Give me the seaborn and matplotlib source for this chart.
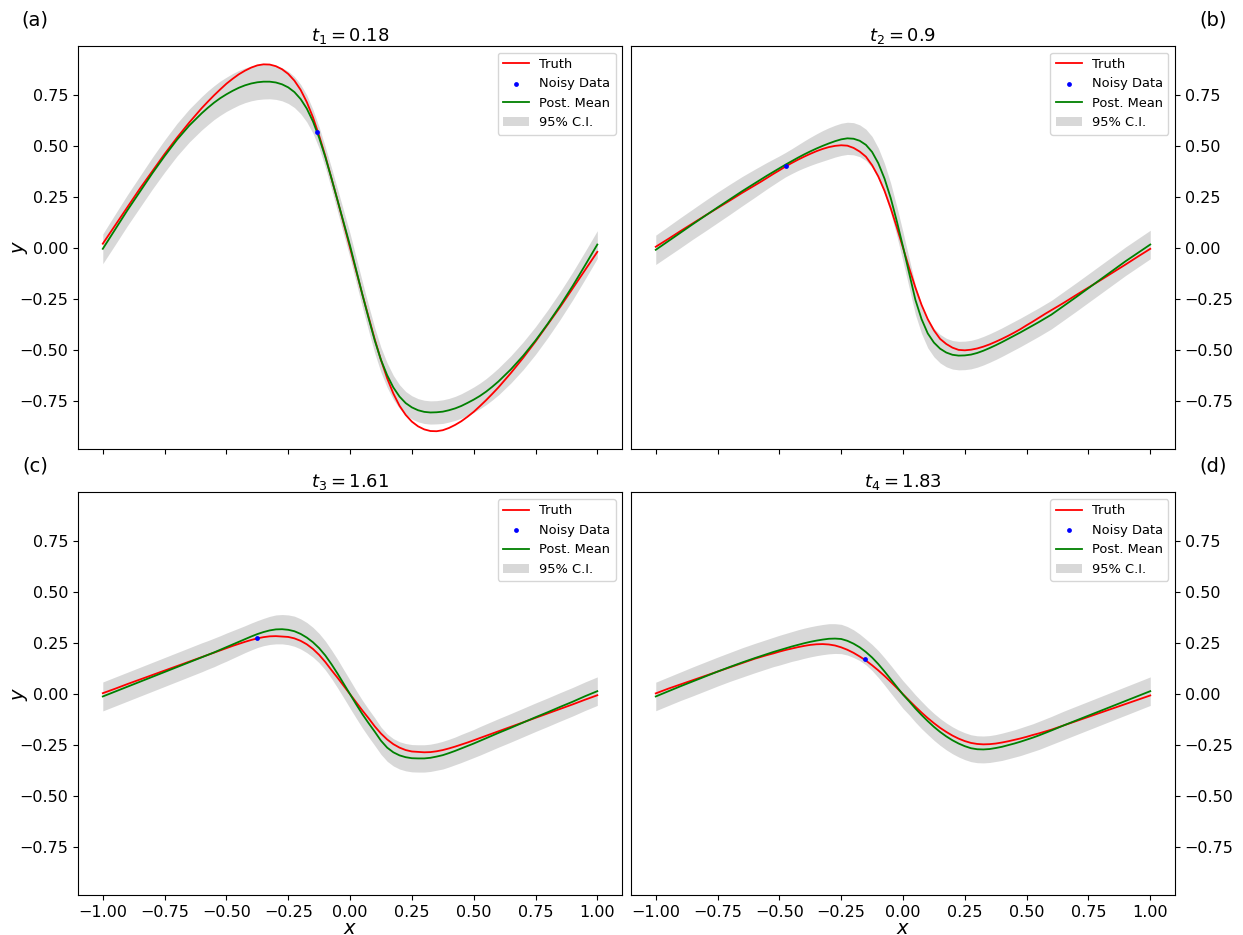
import numpy as np
import pandas as pd
import matplotlib
matplotlib.use("Agg")
import matplotlib.pyplot as plt
import seaborn as sns

# sample locations (finer near the middle where the curves bend)
x_grid = [-1.0, -0.95, -0.9, -0.85, -0.8, -0.75, -0.7, -0.65, -0.6,
          -0.575, -0.55, -0.525, -0.5, -0.475, -0.45, -0.425, -0.4, -0.375, -0.35,
          -0.325, -0.3, -0.275, -0.25, -0.225, -0.2, -0.175, -0.15, -0.125, -0.1,
          -0.075, -0.05, -0.025, 0.0,
          0.025, 0.05, 0.075, 0.1, 0.125, 0.15, 0.175, 0.2, 0.225, 0.25,
          0.275, 0.3, 0.325, 0.35, 0.375, 0.4, 0.425, 0.45, 0.475, 0.5,
          0.525, 0.55, 0.575,
          0.6, 0.65, 0.7, 0.75, 0.8, 0.85, 0.9, 0.95, 1.0]

times = ["$t_1 = 0.18$", "$t_2 = 0.9$", "$t_3 = 1.61$", "$t_4 = 1.83$"]
panel_tags = ["(a)", "(b)", "(c)", "(d)"]

# noisy observations (one per panel)
data_x = [-0.133, -0.475, -0.375, -0.152]
data_y = [0.57, 0.40, 0.276, 0.173]

# panel (a)
truth_a = [0.02, 0.11, 0.20, 0.29, 0.375, 0.46, 0.54, 0.615, 0.685,
           0.717, 0.748, 0.777, 0.805, 0.829, 0.851, 0.869, 0.884, 0.895, 0.90,
           0.899, 0.891, 0.876, 0.853, 0.82, 0.775, 0.715, 0.64, 0.55, 0.45,
           0.34, 0.23, 0.115, 0.0,
           -0.115, -0.23, -0.34, -0.45, -0.55, -0.64, -0.715, -0.775, -0.82, -0.853,
           -0.876, -0.891, -0.899, -0.90, -0.895, -0.884, -0.869, -0.851, -0.829, -0.805,
           -0.777, -0.748, -0.717,
           -0.685, -0.615, -0.54, -0.46, -0.375, -0.29, -0.20, -0.11, -0.02]
mean_a = [-0.005, 0.09, 0.185, 0.275, 0.365, 0.45, 0.53, 0.60, 0.66,
          0.687, 0.712, 0.734, 0.753, 0.77, 0.785, 0.797, 0.806, 0.812, 0.815,
          0.815, 0.811, 0.802, 0.787, 0.764, 0.73, 0.683, 0.62, 0.54, 0.445,
          0.34, 0.23, 0.12, 0.01,
          -0.11, -0.23, -0.345, -0.455, -0.55, -0.625, -0.685, -0.73, -0.762, -0.783,
          -0.797, -0.805, -0.808, -0.807, -0.804, -0.797, -0.788, -0.776, -0.761, -0.745,
          -0.727, -0.706, -0.682,
          -0.656, -0.597, -0.53, -0.455, -0.372, -0.283, -0.188, -0.087, 0.016]
half_a = [0.073, 0.075, 0.076, 0.077, 0.078, 0.079, 0.08, 0.081, 0.082,
          0.083, 0.083, 0.084, 0.084, 0.085, 0.085, 0.085, 0.085, 0.085, 0.085,
          0.084, 0.083, 0.081, 0.079, 0.076, 0.072, 0.066, 0.058, 0.052, 0.05,
          0.052, 0.055, 0.058, 0.06,
          0.061, 0.062, 0.062, 0.062, 0.061, 0.06, 0.059, 0.058, 0.057, 0.057,
          0.057, 0.057, 0.057, 0.057, 0.058, 0.058, 0.059, 0.06, 0.061, 0.062,
          0.063, 0.064, 0.065,
          0.066, 0.067, 0.068, 0.068, 0.068, 0.068, 0.068, 0.068, 0.068]

# panel (b)
truth_b = [0.005, 0.043, 0.082, 0.12, 0.158, 0.195, 0.232, 0.27, 0.306,
           0.324, 0.343, 0.362, 0.38, 0.399, 0.416, 0.432, 0.447, 0.461, 0.474,
           0.485, 0.494, 0.50, 0.503, 0.501, 0.49, 0.472, 0.447, 0.405, 0.35,
           0.28, 0.195, 0.10, 0.0,
           -0.10, -0.195, -0.28, -0.35, -0.405, -0.447, -0.472, -0.49, -0.501, -0.503,
           -0.50, -0.494, -0.485, -0.474, -0.461, -0.447, -0.432, -0.416, -0.399, -0.38,
           -0.362, -0.343, -0.324,
           -0.306, -0.27, -0.232, -0.195, -0.158, -0.12, -0.082, -0.043, -0.005]
mean_b = [-0.01, 0.032, 0.074, 0.116, 0.157, 0.198, 0.238, 0.278, 0.316,
          0.335, 0.354, 0.372, 0.39, 0.408, 0.425, 0.442, 0.458, 0.473, 0.487,
          0.50, 0.512, 0.523, 0.532, 0.537, 0.535, 0.525, 0.505, 0.47, 0.415,
          0.34, 0.245, 0.13, 0.005,
          -0.125, -0.255, -0.35, -0.42, -0.465, -0.495, -0.514, -0.525, -0.529, -0.528,
          -0.524, -0.516, -0.505, -0.492, -0.478, -0.463, -0.447, -0.431, -0.415, -0.398,
          -0.381, -0.364, -0.346,
          -0.328, -0.285, -0.242, -0.198, -0.154, -0.11, -0.066, -0.025, 0.016]
half_b = [0.072, 0.073, 0.074, 0.074, 0.075, 0.075, 0.074, 0.072, 0.069,
          0.067, 0.065, 0.063, 0.061, 0.06, 0.061, 0.063, 0.066, 0.069, 0.072,
          0.075, 0.077, 0.078, 0.079, 0.079, 0.079, 0.078, 0.077, 0.076, 0.075,
          0.074, 0.073, 0.072, 0.072,
          0.072, 0.072, 0.071, 0.071, 0.07, 0.07, 0.07, 0.07, 0.07, 0.07,
          0.07, 0.07, 0.07, 0.07, 0.07, 0.07, 0.07, 0.07, 0.07, 0.07,
          0.07, 0.07, 0.07,
          0.07, 0.07, 0.07, 0.07, 0.07, 0.07, 0.07, 0.07, 0.07]

# panel (c)
truth_c = [0.005, 0.027, 0.05, 0.072, 0.094, 0.116, 0.138, 0.16, 0.182,
           0.193, 0.204, 0.215, 0.226, 0.237, 0.247, 0.257, 0.266, 0.274, 0.28,
           0.284, 0.285, 0.283, 0.281, 0.274, 0.262, 0.245, 0.222, 0.193, 0.158,
           0.118, 0.08, 0.04, 0.0,
           -0.04, -0.08, -0.118, -0.158, -0.193, -0.222, -0.245, -0.262, -0.274, -0.281,
           -0.283, -0.285, -0.284, -0.28, -0.274, -0.266, -0.257, -0.247, -0.237, -0.226,
           -0.215, -0.204, -0.193,
           -0.182, -0.16, -0.138, -0.116, -0.094, -0.072, -0.05, -0.027, -0.005]
mean_c = [-0.011, 0.013, 0.037, 0.061, 0.085, 0.109, 0.133, 0.157, 0.181,
          0.193, 0.205, 0.218, 0.231, 0.244, 0.257, 0.27, 0.283, 0.295, 0.305,
          0.313, 0.318, 0.319, 0.316, 0.309, 0.296, 0.278, 0.255, 0.226, 0.19,
          0.147, 0.1, 0.05, 0.0,
          -0.05, -0.098, -0.142, -0.184, -0.228, -0.262, -0.285, -0.30, -0.309, -0.314,
          -0.315, -0.315, -0.312, -0.306, -0.299, -0.289, -0.278, -0.266, -0.254, -0.242,
          -0.229, -0.216, -0.203,
          -0.19, -0.165, -0.139, -0.113, -0.088, -0.062, -0.037, -0.01, 0.015]
half_c = [0.071, 0.071, 0.071, 0.071, 0.071, 0.071, 0.071, 0.071, 0.071,
          0.07, 0.07, 0.069, 0.069, 0.068, 0.067, 0.066, 0.066, 0.066, 0.067,
          0.069, 0.071, 0.072, 0.073, 0.074, 0.074, 0.074, 0.073, 0.072, 0.071,
          0.07, 0.07, 0.069, 0.069,
          0.068, 0.068, 0.068, 0.068, 0.067, 0.067, 0.067, 0.067, 0.067, 0.067,
          0.067, 0.067, 0.067, 0.067, 0.068, 0.068, 0.068, 0.069, 0.069, 0.069,
          0.07, 0.07, 0.07,
          0.07, 0.07, 0.07, 0.07, 0.07, 0.07, 0.07, 0.07, 0.07]

# panel (d)
truth_d = [0.004, 0.027, 0.048, 0.069, 0.09, 0.111, 0.132, 0.153, 0.174,
           0.183, 0.192, 0.20, 0.209, 0.217, 0.224, 0.231, 0.237, 0.242, 0.245,
           0.246, 0.244, 0.239, 0.23, 0.218, 0.203, 0.185, 0.165, 0.142, 0.117,
           0.09, 0.061, 0.031, 0.0,
           -0.031, -0.061, -0.09, -0.117, -0.142, -0.165, -0.185, -0.203, -0.218, -0.23,
           -0.239, -0.244, -0.246, -0.245, -0.242, -0.237, -0.231, -0.224, -0.217, -0.209,
           -0.20, -0.192, -0.183,
           -0.174, -0.153, -0.132, -0.111, -0.09, -0.069, -0.048, -0.027, -0.006]
mean_d = [-0.011, 0.014, 0.039, 0.063, 0.087, 0.111, 0.134, 0.156, 0.177,
          0.187, 0.197, 0.207, 0.216, 0.225, 0.234, 0.242, 0.25, 0.257, 0.263,
          0.268, 0.272, 0.273, 0.271, 0.262, 0.248, 0.23, 0.207, 0.18, 0.148,
          0.112, 0.074, 0.036, -0.002,
          -0.035, -0.07, -0.102, -0.132, -0.16, -0.185, -0.207, -0.226, -0.242, -0.255,
          -0.265, -0.27, -0.271, -0.269, -0.264, -0.258, -0.25, -0.242, -0.233, -0.223,
          -0.213, -0.202, -0.19,
          -0.178, -0.153, -0.129, -0.105, -0.081, -0.057, -0.033, -0.009, 0.015]
half_d = [0.07, 0.07, 0.07, 0.071, 0.071, 0.071, 0.071, 0.072, 0.072,
          0.072, 0.072, 0.072, 0.073, 0.073, 0.073, 0.074, 0.074, 0.074, 0.074,
          0.074, 0.074, 0.073, 0.072, 0.07, 0.068, 0.065, 0.063, 0.064, 0.066,
          0.067, 0.068, 0.068, 0.068,
          0.067, 0.067, 0.067, 0.066, 0.066, 0.066, 0.066, 0.066, 0.066, 0.066,
          0.066, 0.066, 0.066, 0.066, 0.066, 0.067, 0.067, 0.067, 0.068, 0.068,
          0.068, 0.069, 0.069,
          0.069, 0.07, 0.07, 0.07, 0.07, 0.07, 0.07, 0.07, 0.07]

truths = [truth_a, truth_b, truth_c, truth_d]
means = [mean_a, mean_b, mean_c, mean_d]
halves = [half_a, half_b, half_c, half_d]

plt.rcParams['font.family'] = ['DejaVu Sans']

fig, axs = plt.subplots(2, 2, figsize=(12.43, 9.35), dpi=100, sharex=True, sharey=True)
fig.subplots_adjust(left=0.0628, right=0.9453, top=0.9508, bottom=0.0428,
                    wspace=0.0165, hspace=0.109)

order = ['Truth', 'Noisy Data', 'Post. Mean', '95% C.I.']

for i, ax in enumerate(axs.flat):
    df = pd.DataFrame({'x': x_grid, 'truth': truths[i], 'mean': means[i], 'half': halves[i]})
    lo = df['mean'] - df['half']
    hi = df['mean'] + df['half']

    ax.fill_between(df['x'], lo, hi, color='gray', alpha=0.3, lw=0, label='95% C.I.')
    sns.lineplot(data=df, x='x', y='truth', color='red', lw=1.3, ax=ax, label='Truth')
    sns.lineplot(data=df, x='x', y='mean', color='green', lw=1.3, ax=ax, label='Post. Mean')
    sns.scatterplot(x=[data_x[i]], y=[data_y[i]], color='blue', s=12, linewidth=0,
                    ax=ax, label='Noisy Data', zorder=5)

    handles, labels = ax.get_legend_handles_labels()
    hmap = dict(zip(labels, handles))
    ax.legend([hmap[k] for k in order], order, loc='upper right', fontsize=9.4)

    ax.set_title(times[i], fontsize=13, pad=3)
    ax.set_xlim(-1.1, 1.1)
    ax.set_ylim(-0.985, 0.99)
    ax.set_xticks([-1.0, -0.75, -0.5, -0.25, 0.0, 0.25, 0.5, 0.75, 1.0])
    ax.set_yticks([-0.75, -0.5, -0.25, 0.0, 0.25, 0.5, 0.75])
    ax.tick_params(labelsize=11.5)
    ax.set_xlabel('$x$' if i >= 2 else '', fontsize=14, labelpad=-0.5)
    ax.set_ylabel('$y$', fontsize=14)
    if i % 2 == 1:
        ax.yaxis.tick_right()
        ax.yaxis.set_label_position('right')
        ax.tick_params(axis='y', labelright=True, labelleft=False)
        ax.yaxis.set_label_coords(1.088, 0.5)
    else:
        ax.yaxis.set_label_coords(-0.088, 0.5)

axs[0, 0].tick_params(labelbottom=False)
axs[0, 1].tick_params(labelbottom=False)

fig.text(35 / 1243, 1 - 20 / 935, panel_tags[0], ha='center', va='center', fontsize=14)
fig.text(1213 / 1243, 1 - 20 / 935, panel_tags[1], ha='center', va='center', fontsize=14)
fig.text(35 / 1243, 1 - 466 / 935, panel_tags[2], ha='center', va='center', fontsize=14)
fig.text(1213 / 1243, 1 - 466 / 935, panel_tags[3], ha='center', va='center', fontsize=14)

fig.savefig('out.png', dpi=100)
